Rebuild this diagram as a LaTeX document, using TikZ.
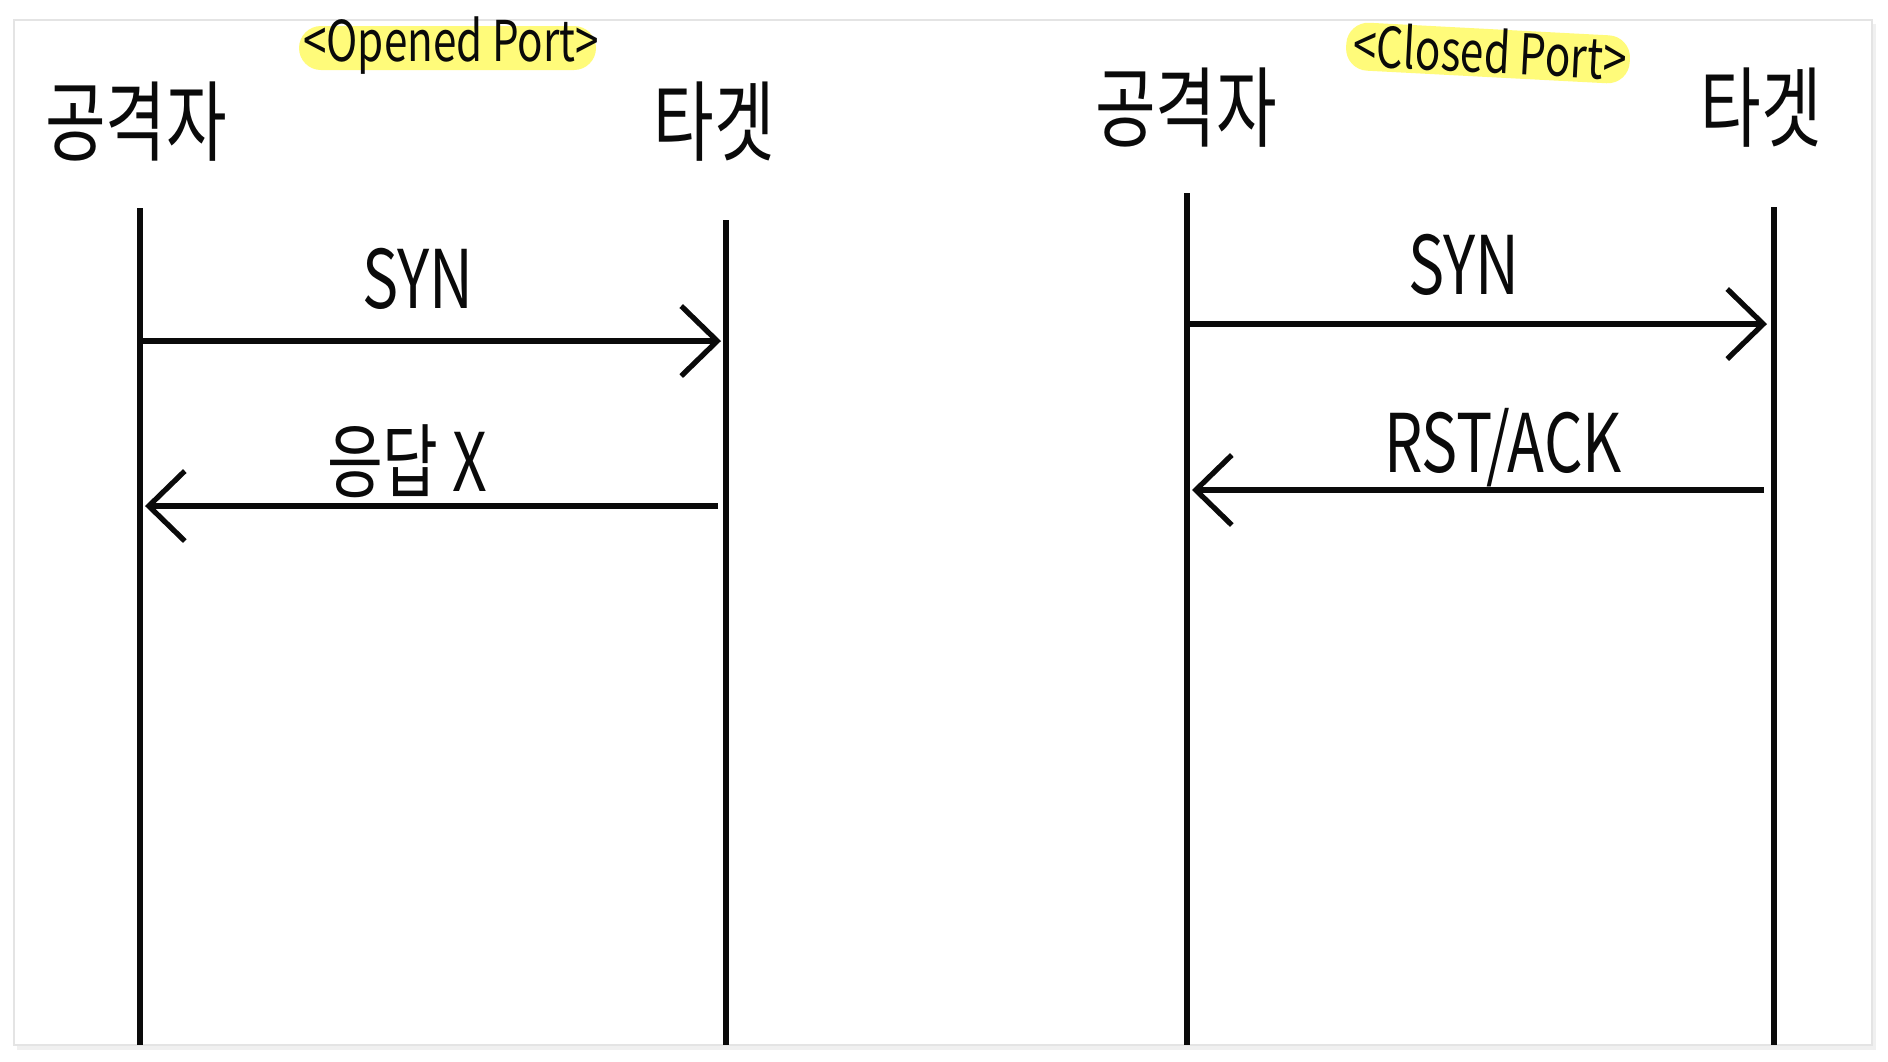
\documentclass[tikz,border=0pt]{standalone}
\usepackage{fontspec}
\usepackage{xcolor}
\usetikzlibrary{arrows.meta}
\newfontfamily\handfont[FakeStretch=0.75]{Noto Sans CJK KR}
\definecolor{markcol}{HTML}{FFFB7A}
\definecolor{cardline}{HTML}{E4E4E4}
\definecolor{inkcol}{HTML}{0A0A0A}

\begin{document}
\begin{tikzpicture}[x=1cm, y=1cm,
      lifeline/.style={draw=inkcol, line width=1.5pt},
      msg/.style={-{Straight Barb[length=0.36cm, width=0.70cm, line width=1.5pt]},
                  line width=1.5pt, color=inkcol, shorten >=0.05cm},
      who/.style={font=\handfont\fontsize{25}{25}\selectfont, color=inkcol, inner sep=0pt},
      tag/.style={font=\handfont\fontsize{23}{23}\selectfont, color=inkcol, inner sep=0pt},
      ttl/.style={font=\handfont\fontsize{16}{16}\selectfont, color=inkcol, inner sep=0pt},
      hilite/.style={fill=markcol, rounded corners=0.22cm, draw=none}]

    % page and card
    \useasboundingbox (0,0) rectangle (18.88,-10.61);
    \fill[white] (0,0) rectangle (18.88,-10.61);
    \fill[black!6] (0.17,-0.24) rectangle (18.76,-10.50);
    \draw[cardline, fill=white, line width=0.6pt] (0.14,-0.20) rectangle (18.72,-10.45);

    % titles
    \fill[hilite] (2.99,-0.26) rectangle (5.96,-0.70);
    \node[ttl] (ttlA) at (4.51,-0.46) {<Opened Port>};
    \fill[hilite, rotate around={-3:(14.88,-0.53)}] (13.46,-0.29) rectangle (16.30,-0.77);
    \node[ttl, rotate=-3] (ttlB) at (14.90,-0.51) {<Closed Port>};

    % open port side
    \node[who] (atkA) at (1.36,-1.22) {공격자};
    \node[who] (tgtA) at (7.14,-1.22) {타겟};
    \coordinate (atkA-top) at (1.40,-2.08);
    \coordinate (atkA-end) at (1.40,-10.45);
    \coordinate (tgtA-top) at (7.26,-2.20);
    \coordinate (tgtA-end) at (7.26,-10.45);
    \draw[lifeline] (atkA-top) -- (atkA-end);
    \draw[lifeline] (tgtA-top) -- (tgtA-end);

    \coordinate (synA-s) at (1.40,-3.41);
    \coordinate (synA-e) at (7.26,-3.41);
    \draw[msg] (synA-s) -- (synA-e);
    \node[tag] (synA) at (4.18,-2.79) {SYN};

    \coordinate (repA-s) at (7.18,-5.06);
    \coordinate (repA-e) at (1.40,-5.06);
    \draw[msg] (repA-s) -- (repA-e);
    \node[tag] (repA) at (4.07,-4.61) {응답 X};

    % closed port side
    \node[who] (atkB) at (11.86,-1.08) {공격자};
    \node[who] (tgtB) at (17.61,-1.08) {타겟};
    \coordinate (atkB-top) at (11.87,-1.93);
    \coordinate (atkB-end) at (11.87,-10.45);
    \coordinate (tgtB-top) at (17.74,-2.07);
    \coordinate (tgtB-end) at (17.74,-10.45);
    \draw[lifeline] (atkB-top) -- (atkB-end);
    \draw[lifeline] (tgtB-top) -- (tgtB-end);

    \coordinate (synB-s) at (11.87,-3.24);
    \coordinate (synB-e) at (17.72,-3.24);
    \draw[msg] (synB-s) -- (synB-e);
    \node[tag] (synB) at (14.64,-2.65) {SYN};

    \coordinate (rstB-s) at (17.64,-4.90);
    \coordinate (rstB-e) at (11.87,-4.90);
    \draw[msg] (rstB-s) -- (rstB-e);
    \node[tag] (rstB) at (15.03,-4.48) {RST/ACK};
  \end{tikzpicture}
\end{document}
